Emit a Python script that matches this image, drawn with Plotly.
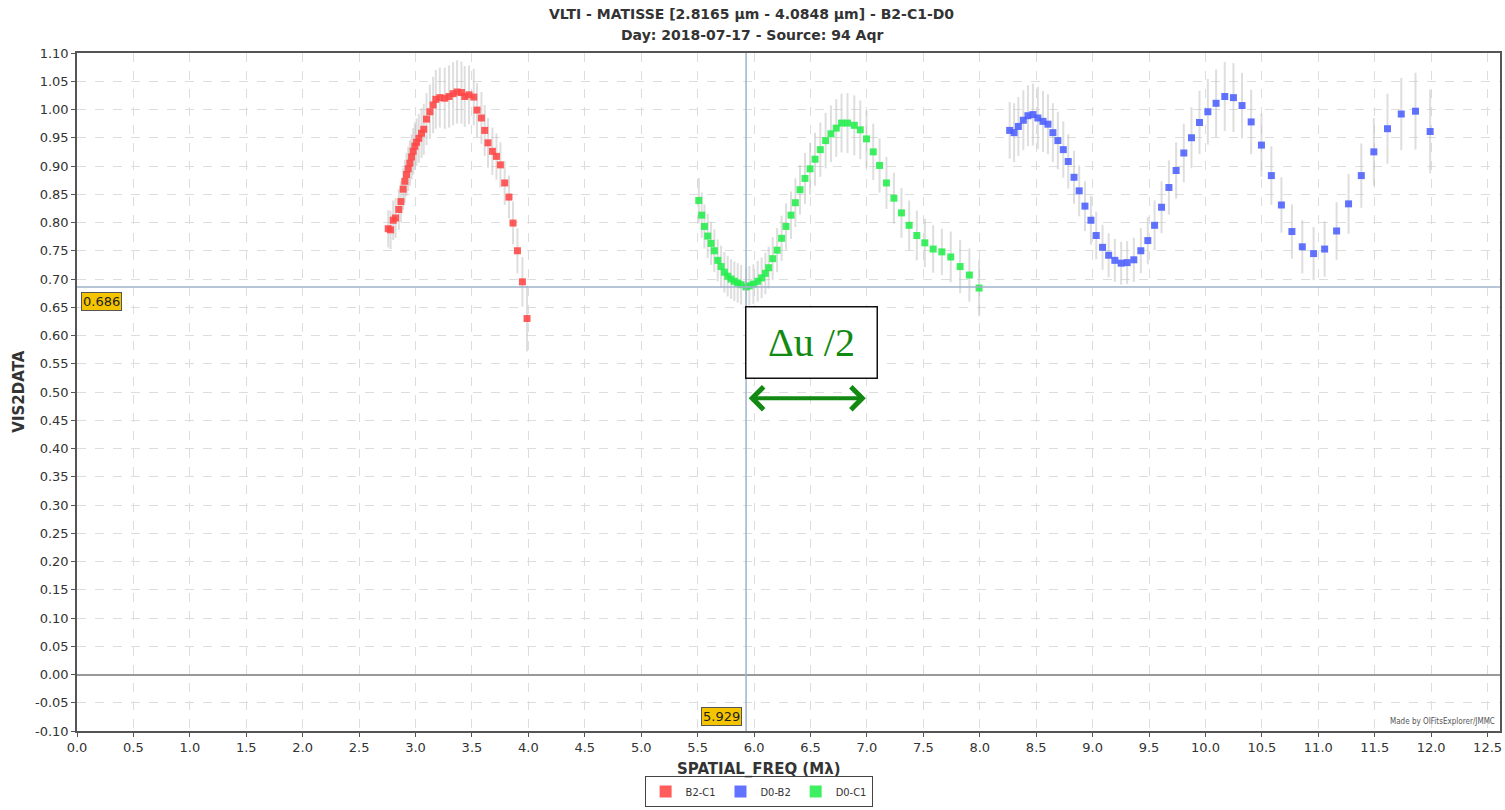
import plotly.graph_objects as go

# Baseline B2-C1
b2c1_freq = [2.758, 2.779, 2.802, 2.823, 2.852, 2.870, 2.890, 2.905, 2.920, 2.935,
             2.950, 2.965, 2.979, 2.994, 3.009, 3.029, 3.053, 3.073, 3.097, 3.127,
             3.156, 3.180, 3.215, 3.259, 3.297, 3.333, 3.368, 3.407, 3.436, 3.474,
             3.516, 3.545, 3.584, 3.613, 3.642, 3.681, 3.717, 3.752, 3.790, 3.828,
             3.864, 3.903, 3.947, 3.988]
b2c1_vis2 = [0.789, 0.787, 0.804, 0.808, 0.823, 0.837, 0.859, 0.873, 0.885, 0.895,
             0.905, 0.916, 0.926, 0.935, 0.942, 0.949, 0.958, 0.965, 0.983, 0.996,
             1.008, 1.018, 1.021, 1.020, 1.023, 1.028, 1.031, 1.030, 1.023, 1.026,
             1.022, 0.999, 0.985, 0.963, 0.941, 0.926, 0.917, 0.902, 0.870, 0.845,
             0.799, 0.750, 0.695, 0.630]
b2c1_err = [0.033, 0.034, 0.035, 0.035, 0.036, 0.036, 0.037, 0.038, 0.038, 0.039,
            0.040, 0.040, 0.041, 0.042, 0.042, 0.043, 0.044, 0.045, 0.046, 0.048,
            0.050, 0.052, 0.053, 0.054, 0.055, 0.056, 0.056, 0.055, 0.054, 0.052,
            0.050, 0.048, 0.046, 0.045, 0.044, 0.042, 0.041, 0.040, 0.039, 0.038,
            0.038, 0.040, 0.044, 0.058]

# Baseline D0-B2
d0b2_freq = [8.265, 8.304, 8.342, 8.386, 8.427, 8.471, 8.515, 8.560, 8.604, 8.648,
             8.692, 8.740, 8.784, 8.835, 8.881, 8.932, 8.985, 9.032, 9.088, 9.142,
             9.197, 9.253, 9.306, 9.365, 9.427, 9.489, 9.549, 9.611, 9.676, 9.740,
             9.808, 9.876, 9.947, 10.021, 10.094, 10.171, 10.248, 10.324, 10.405, 10.496,
             10.584, 10.673, 10.766, 10.858, 10.958, 11.056, 11.162, 11.268, 11.381, 11.492,
             11.613, 11.735, 11.861, 11.991]
d0b2_vis2 = [0.963, 0.959, 0.970, 0.981, 0.989, 0.991, 0.985, 0.979, 0.974, 0.959,
             0.945, 0.929, 0.908, 0.880, 0.856, 0.829, 0.804, 0.777, 0.756, 0.742,
             0.733, 0.728, 0.729, 0.734, 0.750, 0.768, 0.795, 0.827, 0.862, 0.892,
             0.923, 0.950, 0.977, 0.996, 1.011, 1.023, 1.021, 1.007, 0.978, 0.937,
             0.883, 0.831, 0.784, 0.757, 0.745, 0.753, 0.785, 0.833, 0.883, 0.925,
             0.966, 0.992, 0.997, 0.961]
d0b2_err = [0.050, 0.052, 0.052, 0.053, 0.054, 0.055, 0.055, 0.054, 0.053, 0.052,
            0.051, 0.050, 0.048, 0.047, 0.045, 0.044, 0.043, 0.042, 0.040, 0.039,
            0.038, 0.038, 0.038, 0.039, 0.040, 0.042, 0.044, 0.046, 0.048, 0.050,
            0.052, 0.054, 0.056, 0.058, 0.060, 0.061, 0.061, 0.058, 0.057, 0.056,
            0.052, 0.049, 0.048, 0.047, 0.047, 0.049, 0.051, 0.053, 0.057, 0.060,
            0.062, 0.064, 0.068, 0.074]

# Baseline D0-C1
d0c1_freq = [5.510, 5.536, 5.560, 5.589, 5.619, 5.648, 5.678, 5.708, 5.737, 5.766,
             5.796, 5.825, 5.855, 5.885, 5.929, 5.958, 5.994, 6.032, 6.067, 6.100,
             6.129, 6.165, 6.204, 6.244, 6.283, 6.327, 6.366, 6.407, 6.451, 6.496,
             6.540, 6.587, 6.634, 6.681, 6.728, 6.775, 6.828, 6.888, 6.941, 6.996,
             7.056, 7.112, 7.173, 7.239, 7.306, 7.374, 7.442, 7.513, 7.587, 7.664,
             7.743, 7.826, 7.908, 7.994]
d0c1_vis2 = [0.839, 0.813, 0.793, 0.776, 0.763, 0.750, 0.733, 0.722, 0.712, 0.705,
             0.700, 0.696, 0.693, 0.690, 0.686, 0.688, 0.691, 0.696, 0.702, 0.710,
             0.720, 0.736, 0.751, 0.772, 0.793, 0.813, 0.835, 0.858, 0.878, 0.895,
             0.912, 0.929, 0.945, 0.957, 0.967, 0.976, 0.976, 0.972, 0.964, 0.948,
             0.925, 0.901, 0.870, 0.843, 0.817, 0.795, 0.777, 0.764, 0.753, 0.748,
             0.739, 0.722, 0.707, 0.684]
d0c1_err = [0.040, 0.040, 0.039, 0.039, 0.038, 0.038, 0.037, 0.037, 0.036, 0.036,
            0.035, 0.035, 0.035, 0.035, 0.035, 0.035, 0.035, 0.036, 0.036, 0.037,
            0.037, 0.038, 0.039, 0.040, 0.041, 0.042, 0.043, 0.044, 0.045, 0.046,
            0.047, 0.048, 0.049, 0.050, 0.051, 0.052, 0.053, 0.053, 0.052, 0.051,
            0.050, 0.048, 0.046, 0.045, 0.044, 0.044, 0.044, 0.043, 0.042, 0.041,
            0.045, 0.047, 0.047, 0.050]

# Crosshair position (selected point)
cross_x = 5.929
cross_y = 0.686

x_ticks = [i * 0.5 for i in range(26)]
y_ticks = [round(-0.10 + i * 0.05, 2) for i in range(25)]

series = [
    ("B2-C1", b2c1_freq, b2c1_vis2, b2c1_err, "rgba(255,70,70,0.88)"),
    ("D0-B2", d0b2_freq, d0b2_vis2, d0b2_err, "rgba(75,95,255,0.88)"),
    ("D0-C1", d0c1_freq, d0c1_vis2, d0c1_err, "rgba(35,238,75,0.88)"),
]

fig = go.Figure()
for name, fx, fy, ferr, col in series:
    fig.add_trace(go.Scatter(
        x=fx, y=fy, mode="markers", name=name,
        marker=dict(symbol="square", size=7, color=col, line=dict(width=0)),
        error_y=dict(type="data", array=ferr, visible=True,
                     color="rgba(190,190,190,0.5)", thickness=2, width=0),
    ))

axis_font = dict(family="DejaVu Sans, sans-serif", size=13, color="#333")

fig.update_layout(
    width=1505, height=810,
    margin=dict(l=77, r=3, t=53, b=78),
    paper_bgcolor="white", plot_bgcolor="white",
    showlegend=True,
    legend=dict(orientation="h", x=0.479, xanchor="center", y=-0.112, yanchor="bottom",
                bordercolor="#444", borderwidth=1, bgcolor="white",
                font=dict(family="DejaVu Sans Condensed, Liberation Sans Narrow, sans-serif",
                          size=11, color="#333"),
                itemwidth=30, tracegroupgap=0, itemsizing="constant"),
    xaxis=dict(range=[0, 12.61], tickvals=x_ticks, ticktext=[f"{v:.1f}" for v in x_ticks],
               showgrid=True, gridcolor="#dddddd", griddash="dash", gridwidth=1,
               zeroline=False, showline=True, linecolor="#555", linewidth=1.5, mirror=True,
               ticks="outside", ticklen=4, tickcolor="#555", tickfont=axis_font),
    yaxis=dict(range=[-0.10, 1.10], tickvals=y_ticks, ticktext=[f"{v:.2f}" for v in y_ticks],
               showgrid=True, gridcolor="#dddddd", griddash="dash", gridwidth=1,
               zeroline=True, zerolinecolor="#999", zerolinewidth=2,
               showline=True, linecolor="#555", linewidth=1.5, mirror=True,
               ticks="outside", ticklen=4, tickcolor="#555", tickfont=axis_font),
)

# Crosshair lines
fig.add_shape(type="line", xref="x", yref="paper", x0=cross_x, x1=cross_x, y0=0, y1=1,
              line=dict(color="#9fb2cb", width=1.5))
fig.add_shape(type="line", xref="paper", yref="y", x0=0, x1=1, y0=cross_y, y1=cross_y,
              line=dict(color="#9fb2cb", width=1.5))

# Crosshair value tags
tag = dict(bgcolor="#f5c400", bordercolor="#555", borderwidth=1, borderpad=1,
           font=dict(family="DejaVu Sans, sans-serif", size=13, color="#222"), showarrow=False)
fig.add_annotation(text=f"{cross_y:.3f}", xref="paper", yref="y", x=0.003, y=cross_y,
                   xanchor="left", yanchor="top", yshift=-5, **tag)
fig.add_annotation(text=f"{cross_x:.3f}", xref="x", yref="y", x=cross_x, y=-0.10,
                   xanchor="right", yanchor="bottom", xshift=-4, yshift=5, **tag)

# Half spatial period marker
half_period_start = cross_x
half_period_end = 6.99
fig.add_annotation(text="Δu /2", xref="x", yref="y", x=(half_period_start + 7.08) / 2, y=0.588,
                   showarrow=False, font=dict(family="Liberation Serif, serif", size=40, color="#128a12"),
                   bordercolor="#111", borderwidth=1.5, borderpad=10, bgcolor="white",
                   width=110, height=50)
fig.add_annotation(x=half_period_end, y=0.489, ax=half_period_start + 0.01, ay=0.489,
                   xref="x", yref="y", axref="x", ayref="y", text="", showarrow=True,
                   arrowside="end+start", arrowhead=4, arrowsize=1.1, arrowwidth=4,
                   arrowcolor="#128a12")

# Titles
title_font = dict(family="DejaVu Sans, sans-serif", size=14, color="#333")
fig.add_annotation(text="<b>VLTI - MATISSE [2.8165 µm - 4.0848 µm] - B2-C1-D0</b>",
                   xref="paper", yref="paper", x=0.474, y=1.0574, showarrow=False,
                   xanchor="center", yanchor="middle", font=title_font)
fig.add_annotation(text="<b>Day: 2018-07-17 - Source: 94 Aqr</b>",
                   xref="paper", yref="paper", x=0.474, y=1.0265, showarrow=False,
                   xanchor="center", yanchor="middle", font=title_font)
fig.add_annotation(text="<b>SPATIAL_FREQ (Mλ)</b>", xref="paper", yref="paper",
                   x=0.479, y=-0.056, showarrow=False, xanchor="center", yanchor="middle",
                   font=dict(family="DejaVu Sans, sans-serif", size=15, color="#333"))
fig.add_annotation(text="<b>VIS2DATA</b>", xref="paper", yref="paper", x=-0.041, y=0.5,
                   textangle=-90, showarrow=False, xanchor="center", yanchor="middle",
                   font=dict(family="DejaVu Sans, sans-serif", size=15, color="#333"))
fig.add_annotation(text="Made by OIFitsExplorer/JMMC", xref="paper", yref="paper",
                   x=0.998, y=0.004, xanchor="right", yanchor="bottom", showarrow=False,
                   font=dict(family="DejaVu Sans Condensed, sans-serif", size=8, color="#555"))

fig.write_html("out.html")
